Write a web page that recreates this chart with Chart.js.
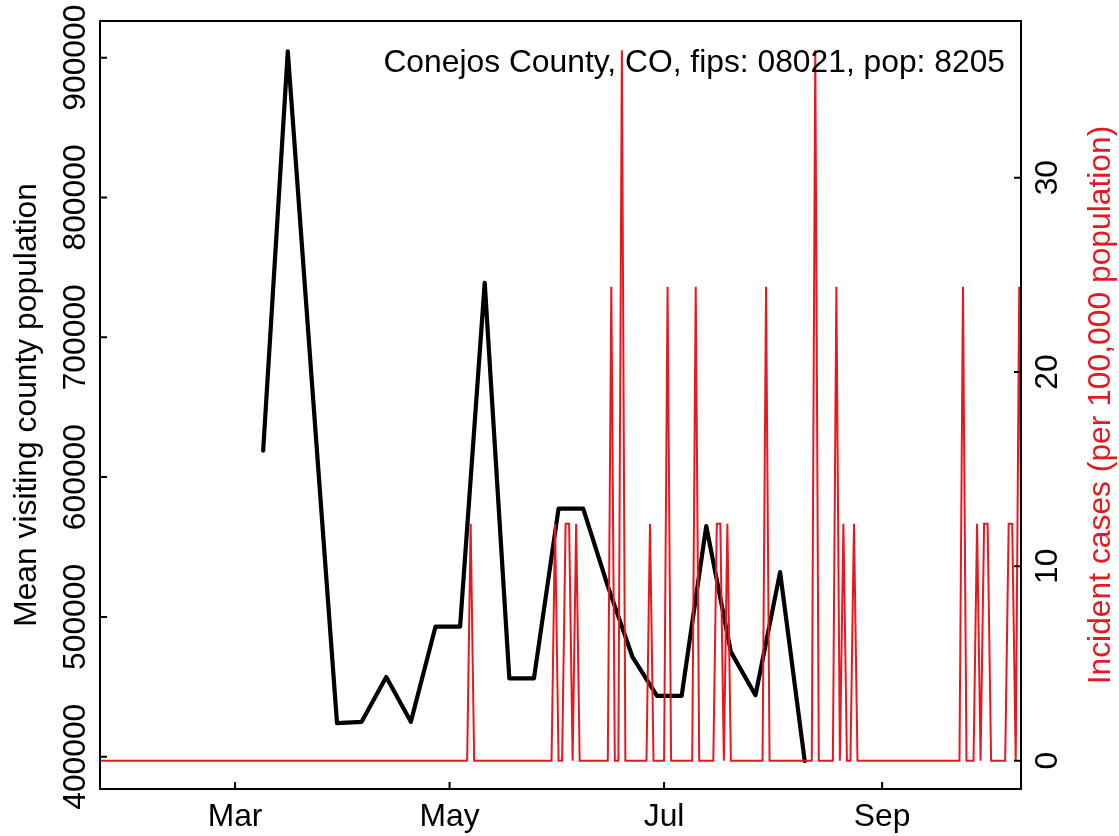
<!DOCTYPE html>
<html>
<head>
<meta charset="utf-8">
<script src="https://cdn.jsdelivr.net/npm/chart.js@4.4.1/dist/chart.umd.min.js"></script>
<style>
    html, body { margin: 0; padding: 0; background: #fff; }
    canvas { display: block; }
</style>
</head>
<body>
<canvas id="chart" width="1119" height="836"></canvas>
<script>
// Weekly mean visiting county population (black line, left axis)
var visitDates = ['2020-03-09', '2020-03-16', '2020-03-23', '2020-03-30', '2020-04-06', '2020-04-13',
    '2020-04-20', '2020-04-27', '2020-05-04', '2020-05-11', '2020-05-18', '2020-05-25', '2020-06-01',
    '2020-06-08', '2020-06-15', '2020-06-22', '2020-06-29', '2020-07-06', '2020-07-13', '2020-07-20',
    '2020-07-27', '2020-08-03', '2020-08-10'];
var visitPop = [619000, 904500, 663000, 424000, 425000, 457000, 425000, 493000, 493000, 739000,
    456000, 456000, 577500, 577500, 522000, 471500, 443500, 443500, 565000, 475000, 444000, 532000, 397000];

// Days with new cases (red line, right axis), per 100,000 population; other days are 0
var caseDates = ['2020-05-07', '2020-05-31', '2020-06-03', '2020-06-04', '2020-06-06', '2020-06-16',
    '2020-06-19', '2020-06-27', '2020-07-02', '2020-07-10', '2020-07-16', '2020-07-17', '2020-07-19',
    '2020-07-30', '2020-08-13', '2020-08-19', '2020-08-21', '2020-08-24', '2020-09-24', '2020-09-28',
    '2020-09-30', '2020-10-01', '2020-10-07', '2020-10-08', '2020-10-10'];
var caseRates = [12.19, 12.19, 12.19, 12.19, 12.19, 24.38, 36.56, 12.19, 24.38, 24.38, 12.19, 12.19,
    12.19, 24.38, 36.56, 24.38, 12.19, 12.19, 24.38, 12.19, 12.19, 12.19, 12.19, 12.19, 24.38];
var caseFirstDay = '2020-01-22';
var caseLastDay = '2020-10-11';

// Axes
var monthTicks = ['2020-03-01', '2020-05-01', '2020-07-01', '2020-09-01'];
var monthLabels = ['Mar', 'May', 'Jul', 'Sep'];
var popTicks = [400000, 500000, 600000, 700000, 800000, 900000];
var caseTicks = [0, 10, 20, 30];

var titleText = 'Conejos County, CO, fips: 08021, pop: 8205';
var leftTitle = 'Mean visiting county population';
var rightTitle = 'Incident cases (per 100,000 population)';

var RED = 'rgb(232, 24, 32)';
var FONT = '31.8px "Liberation Sans", Arial, Helvetica, sans-serif';

// day number counted from 1 Jan 2020
function dayOf(s) {
    return (Date.parse(s) - Date.UTC(2020, 0, 1)) / 86400000;
}

var visitPts = [];
for (var i = 0; i < visitDates.length; i++) {
    visitPts.push({ x: dayOf(visitDates[i]), y: visitPop[i] });
}

var caseByDay = {};
for (var j = 0; j < caseDates.length; j++) {
    caseByDay[dayOf(caseDates[j])] = caseRates[j];
}
var casePts = [];
for (var d = dayOf(caseFirstDay); d <= dayOf(caseLastDay); d++) {
    casePts.push({ x: d, y: caseByDay[d] || 0 });
}

function setTicks(values) {
    return function (scale) {
        scale.ticks = values.map(function (v) { return { value: v }; });
    };
}

// R-style frame: box, inward ticks, rotated labels and titles
var baseAxes = {
    id: 'baseAxes',
    afterDraw: function (chart) {
        var ctx = chart.ctx;
        var a = chart.chartArea;
        var xs = chart.scales.x, ys = chart.scales.y, ys2 = chart.scales.y2;
        var midY = (a.top + a.bottom) / 2;

        ctx.save();
        ctx.strokeStyle = '#000';
        ctx.lineWidth = 2;
        ctx.strokeRect(a.left, a.top, a.right - a.left, a.bottom - a.top);

        ctx.beginPath();
        monthTicks.forEach(function (s) {
            var px = xs.getPixelForValue(dayOf(s));
            ctx.moveTo(px, a.bottom);
            ctx.lineTo(px, a.bottom - 7);
        });
        popTicks.forEach(function (v) {
            var py = ys.getPixelForValue(v);
            ctx.moveTo(a.left, py);
            ctx.lineTo(a.left + 7, py);
        });
        caseTicks.forEach(function (v) {
            var py = ys2.getPixelForValue(v);
            ctx.moveTo(a.right, py);
            ctx.lineTo(a.right - 7, py);
        });
        ctx.stroke();

        ctx.font = FONT;
        ctx.fillStyle = '#000';
        ctx.textBaseline = 'alphabetic';
        ctx.textAlign = 'center';
        monthTicks.forEach(function (s, k) {
            ctx.fillText(monthLabels[k], xs.getPixelForValue(dayOf(s)), a.bottom + 37);
        });

        function vText(txt, x, y) {
            ctx.save();
            ctx.translate(x, y);
            ctx.rotate(-Math.PI / 2);
            ctx.fillText(txt, 0, 0);
            ctx.restore();
        }
        popTicks.forEach(function (v) {
            vText(String(v), a.left - 15, ys.getPixelForValue(v));
        });
        caseTicks.forEach(function (v) {
            vText(String(v), a.right + 36, ys2.getPixelForValue(v));
        });
        vText(leftTitle, 36, midY);
        ctx.fillStyle = RED;
        vText(rightTitle, a.right + 89, midY);

        ctx.fillStyle = '#000';
        ctx.textAlign = 'right';
        ctx.fillText(titleText, a.right - 16, a.top + 51);
        ctx.restore();
    }
};

var ctx = document.getElementById('chart').getContext('2d');
var chart = new Chart(ctx, {
    type: 'line',
    data: {
        datasets: [{
            label: 'Mean visiting county population',
            data: visitPts,
            yAxisID: 'y',
            borderColor: '#000',
            borderWidth: 4.2,
            borderJoinStyle: 'round',
            borderCapStyle: 'round',
            pointRadius: 0,
            tension: 0,
            order: 2
        }, {
            label: 'Incident cases',
            data: casePts,
            yAxisID: 'y2',
            borderColor: RED,
            borderWidth: 2,
            pointRadius: 0,
            tension: 0,
            clip: 0,
            order: 1
        }]
    },
    options: {
        responsive: false,
        animation: false,
        layout: { padding: { top: 21, left: 0, right: 0, bottom: 0 } },
        plugins: {
            legend: { display: false },
            tooltip: { enabled: false }
        },
        scales: {
            x: {
                type: 'linear',
                min: 21.6,
                max: 283.5,
                afterBuildTicks: setTicks(monthTicks.map(dayOf)),
                afterFit: function (s) { s.height = 47; },
                grid: { display: false },
                border: { display: false },
                ticks: { display: false }
            },
            y: {
                position: 'left',
                min: 376930,
                max: 926200,
                afterBuildTicks: setTicks(popTicks),
                afterFit: function (s) { s.width = 100; },
                grid: { display: false },
                border: { display: false },
                ticks: { display: false }
            },
            y2: {
                position: 'right',
                min: -1.456,
                max: 38.06,
                afterBuildTicks: setTicks(caseTicks),
                afterFit: function (s) { s.width = 98; },
                grid: { display: false },
                border: { display: false },
                ticks: { display: false }
            }
        }
    },
    plugins: [baseAxes]
});
</script>
</body>
</html>
